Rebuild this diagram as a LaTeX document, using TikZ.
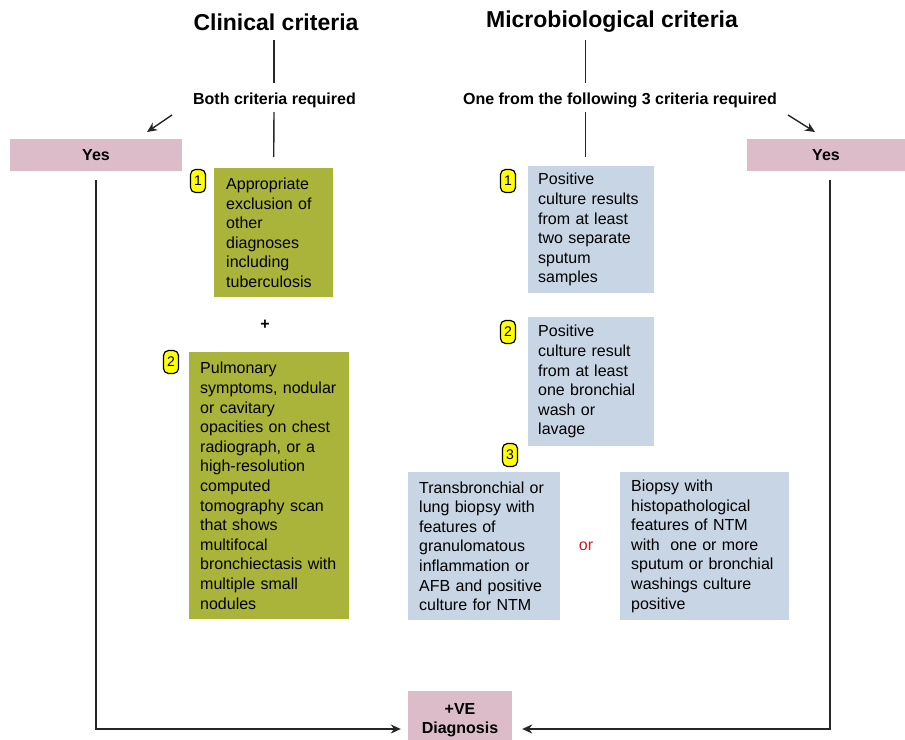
\documentclass[tikz,border=0pt]{standalone}
\usepackage{fontspec}
\setmainfont{Liberation Sans}
\usetikzlibrary{arrows.meta,shapes.misc}
\definecolor{pinkbox}{HTML}{DCBCC8}
\definecolor{greenbox}{HTML}{AAB43A}
\definecolor{bluebox}{HTML}{C8D5E4}
\definecolor{badgey}{HTML}{FFFF00}
\definecolor{orred}{HTML}{C8201E}
\tikzset{
  title/.style={font=\bfseries\fontsize{23}{27}\selectfont, inner sep=0pt},
  sub/.style={font=\bfseries\fontsize{16}{19}\selectfont, inner sep=0pt},
  yesbox/.style={fill=pinkbox, draw=none, font=\bfseries\fontsize{16}{19}\selectfont, inner sep=0pt},
  critbox/.style={draw=none, anchor=north west, align=left, inner ysep=0pt,
    font=\fontsize{16}{19.6}\selectfont},
  badge/.style={rectangle, rounded corners=5pt, fill=badgey, draw=black, line width=1.2pt,
    minimum width=15pt, minimum height=23pt, inner sep=0pt, font=\fontsize{14}{16}\selectfont},
  conn/.style={line width=1.4pt, draw=black!85},
  arr/.style={conn, -{Stealth[length=10pt,width=9pt]}}
}
\begin{document}
\begin{tikzpicture}[x=1pt,y=-1pt]
\useasboundingbox (0,0) rectangle (905,739);
% titles
\node[title] (tc) at (276,22) {Clinical criteria};
\node[title] (tm) at (612,22) {Microbiological criteria};
\node[sub] (bc) at (274.5,100) {Both criteria required};
\node[sub] (om) at (620,100) {One from the following 3 criteria required};
% yes boxes
\node[yesbox, minimum width=172pt, minimum height=32pt] (yl) at (96,155) {Yes};
\node[yesbox, minimum width=158pt, minimum height=32pt] (yr) at (826,155) {Yes};
% clinical boxes
\node[critbox, fill=greenbox, inner xsep=12pt, text width=95pt, minimum height=129pt] (g1) at (214,168)
 {Appropriate\\exclusion of\\other\\diagnoses\\including\\tuberculosis};
\node[sub] (plus) at (265,325) {+};
\node[critbox, fill=greenbox, inner xsep=11pt, text width=138pt, minimum height=267pt] (g2) at (189,352)
 {Pulmonary\\symptoms, nodular\\or cavitary\\opacities on chest\\radiograph, or a\\high-resolution\\computed\\tomography scan\\that shows\\multifocal\\bronchiectasis with\\multiple small\\nodules};
% micro boxes
\node[critbox, fill=bluebox, inner xsep=10pt, text width=106pt, minimum height=127pt] (b1) at (528,166)
 {Positive\\culture results\\from at least\\two separate\\sputum\\samples};
\node[critbox, fill=bluebox, inner xsep=10pt, text width=106pt, minimum height=129pt] (b2) at (528,317)
 {Positive\\culture result\\from at least\\one bronchial\\wash or\\lavage};
\node[critbox, fill=bluebox, inner xsep=11pt, text width=130pt, minimum height=148pt] (b3) at (408,472)
 {\mbox{Transbronchial or}\\lung biopsy with\\features of\\granulomatous\\inflammation or\\AFB and positive\\culture for NTM};
\node[font=\fontsize{16}{19}\selectfont, text=orred, inner sep=0pt] (or) at (586,546) {or};
\node[critbox, fill=bluebox, inner xsep=11pt, text width=147pt, minimum height=148pt] (b4) at (620,472)
 {Biopsy with\\histopathological\\features of NTM\\with\ \ one or more\\sputum or bronchial\\washings culture\\positive};
% badges
\node[badge] (n1) at (198,181) {1};
\node[badge] (n2) at (171,362) {2};
\node[badge] (m1) at (508,181) {1};
\node[badge] (m2) at (508,332) {2};
\node[badge] (m3) at (510,455) {3};
% diagnosis
\node[yesbox, minimum width=104pt, minimum height=76pt, anchor=north] (dx) at (460,691) {};
\node[font=\bfseries\fontsize{16}{19.5}\selectfont, align=center, inner sep=0pt] (dxt) at (460,720) {+VE\\Diagnosis};
% coordinates
\coordinate (c1a) at (274,40); \coordinate (c1b) at (274,83);
\coordinate (c2a) at (274,112);
\coordinate (m1a) at (585.7,40); \coordinate (m1b) at (585.7,83);
\coordinate (m2a) at (585.7,112); \coordinate (m2b) at (585.7,157);
\coordinate (al0) at (172,115); \coordinate (al1) at (147,132);
\coordinate (ar0) at (788,115); \coordinate (ar1) at (815,132);
\coordinate (yl0) at (96,180); \coordinate (yr0) at (830,180);
\coordinate (bot) at (0,729);
% connectors
\draw[conn] (c1a) -- (c1b);
\draw[conn] (c2a) -- ([yshift=11pt]g1.north);
\draw[conn] (m1a) -- (m1b);
\draw[conn] (m2a) -- (m2b);
\draw[arr] (al0) -- (al1);
\draw[arr] (ar0) -- (ar1);
\draw[arr] (yl0) |- ([xshift=-7pt]dx.west |- bot);
\draw[arr] (yr0) |- ([xshift=10pt]dx.east |- bot);
\end{tikzpicture}
\end{document}
